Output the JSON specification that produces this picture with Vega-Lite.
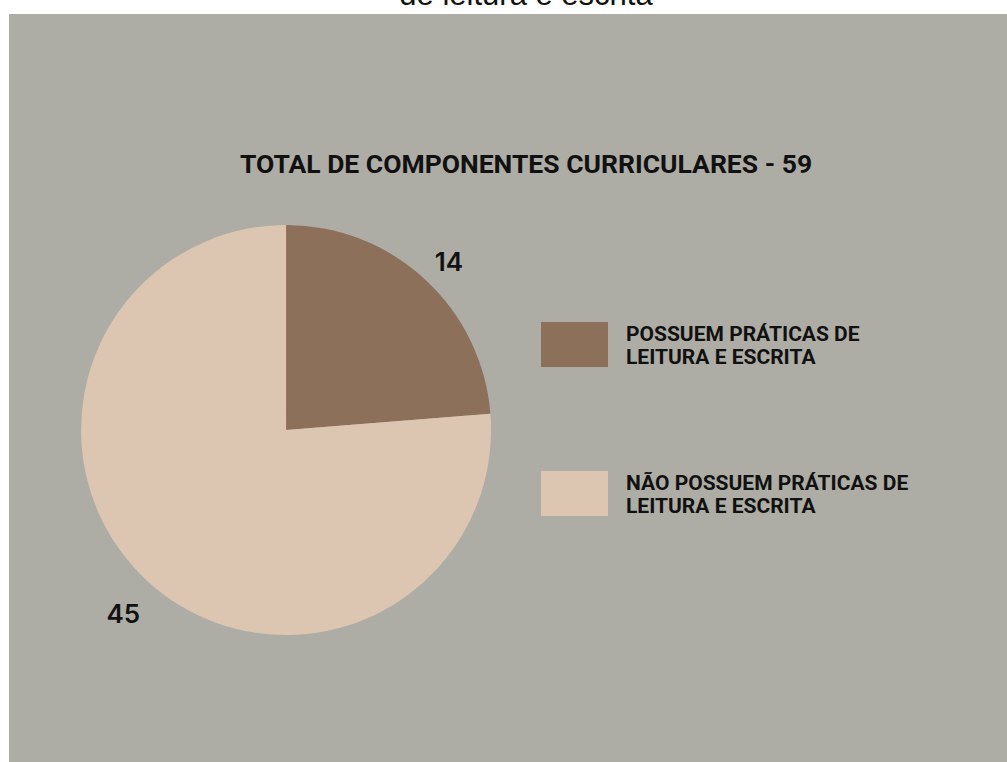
{
  "$schema": "https://vega.github.io/schema/vega-lite/v6.json",
  "autosize": {"type": "none"},
  "padding": {"left": 9, "top": 14, "right": 0, "bottom": 0},
  "width": 998,
  "height": 748,
  "background": "#ffffff",
  "view": {"fill": "#ADADA5", "strokeWidth": 0},
  "title": {
    "text": "de leitura e escrita",
    "subtitle": "TOTAL DE COMPONENTES CURRICULARES - 59",
    "anchor": "middle",
    "orient": "top",
    "offset": -165,
    "dx": 18,
    "font": "Liberation Sans",
    "fontSize": 31,
    "fontWeight": "normal",
    "color": "#111111",
    "subtitleFont": "Roboto",
    "subtitleFontSize": 26.5,
    "subtitleFontWeight": "bold",
    "subtitleColor": "#111111",
    "subtitlePadding": 140
  },
  "data": {
    "values": [
      {"categoria": "POSSUEM PRÁTICAS DE LEITURA E ESCRITA", "valor": 14},
      {"categoria": "NÃO POSSUEM PRÁTICAS DE LEITURA E ESCRITA", "valor": 45}
    ]
  },
  "encoding": {
    "theta": {"field": "valor", "type": "quantitative", "stack": true},
    "order": {"field": "valor", "type": "quantitative", "sort": "ascending"},
    "color": {
      "field": "categoria",
      "type": "nominal",
      "scale": {
        "domain": ["POSSUEM PRÁTICAS DE LEITURA E ESCRITA", "NÃO POSSUEM PRÁTICAS DE LEITURA E ESCRITA"],
        "range": ["#8D7059", "#DCC6B1"]
      },
      "legend": {
        "orient": "none",
        "legendX": 532,
        "legendY": 297,
        "title": null,
        "symbolType": "M-1,-0.672H1V0.672H-1Z",
        "symbolSize": 4489,
        "symbolStrokeWidth": 0,
        "rowPadding": 92,
        "labelOffset": 18,
        "labelBaseline": "bottom",
        "labelFont": "Roboto",
        "labelFontSize": 21,
        "labelFontWeight": "bold",
        "labelColor": "#111111",
        "labelLimit": 500,
        "labelExpr": "split(replace(datum.label, 'DE LEITURA', 'DE|LEITURA'), '|')",
        "encode": {"labels": {"update": {"lineHeight": {"value": 28}}}}
      }
    }
  },
  "layer": [
    {
      "mark": {
        "type": "arc",
        "x": {"expr": "width * 0.2776"},
        "y": {"expr": "height * 0.5562"},
        "outerRadius": 205,
        "stroke": null
      }
    },
    {
      "mark": {
        "type": "text",
        "x": {"expr": "width * 0.2776"},
        "y": {"expr": "height * 0.5562"},
        "radius": 240,
        "dy": 9,
        "font": "Inter",
        "fontSize": 26,
        "fontWeight": 600,
        "color": "#111111"
      },
      "encoding": {
        "text": {"field": "valor", "type": "quantitative"},
        "color": {"value": "#111111"}
      }
    }
  ],
  "config": {
    "view": {"fill": "#ADADA5", "strokeWidth": 0}
  }
}
